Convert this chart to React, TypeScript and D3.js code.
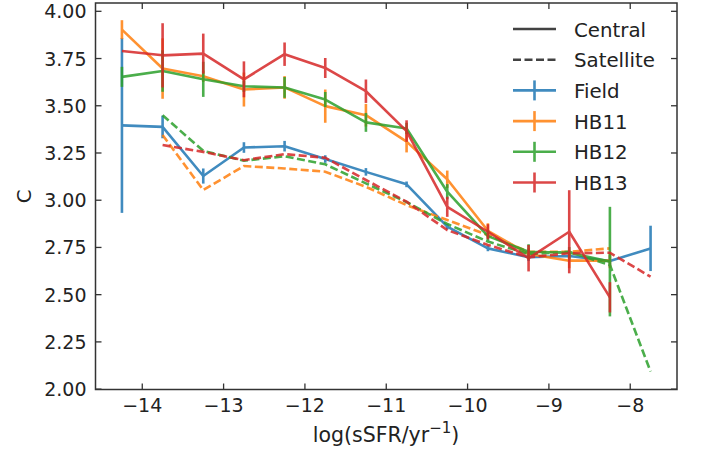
import React from "react";
import * as d3 from "d3";

const xBins = [-14.25, -13.75, -13.25, -12.75, -12.25, -11.75, -11.25, -10.75, -10.25, -9.75, -9.25, -8.75, -8.25, -7.75];

const fieldC = [3.396, 3.388, 3.128, 3.279, 3.286, 3.218, 3.15, 3.084, 2.86, 2.745, 2.698, 2.705, 2.678, 2.745];
const fieldErr = [0.463, 0.06, 0.04, 0.028, 0.028, 0.02, 0.02, 0.015, 0.015, 0.015, 0.02, 0.02, 0.03, 0.12];

const hb11C = [3.903, 3.697, 3.656, 3.586, 3.597, 3.498, 3.45, 3.31, 3.111, 2.838, 2.715, 2.68, 2.68, null];
const hb11Err = [0.05, 0.16, 0.03, 0.09, 0.06, 0.088, 0.06, 0.057, 0.046, 0.04, 0.03, 0.04, 0.04, null];

const hb12C = [3.653, 3.684, 3.64, 3.603, 3.597, 3.533, 3.412, 3.38, 3.045, 2.81, 2.727, 2.722, 2.675, null];
const hb12Err = [0.053, 0.11, 0.093, 0.03, 0.055, 0.04, 0.05, 0.03, 0.04, 0.03, 0.04, 0.03, 0.29, null];

const hb13C = [3.79, 3.767, 3.776, 3.64, 3.773, 3.7, 3.577, 3.366, 2.965, 2.833, 2.693, 2.833, 2.486, null];
const hb13Err = [0, 0.17, 0.106, 0.095, 0.062, 0.053, 0.062, 0.057, 0.053, 0.04, 0.07, 0.22, 0.08, null];

const hb11S = [null, 3.345, 3.054, 3.181, 3.168, 3.151, 3.071, 2.974, 2.895, 2.816, 2.727, 2.727, 2.745, null];
const hb12S = [null, 3.45, 3.261, 3.209, 3.233, 3.19, 3.089, 2.99, 2.874, 2.781, 2.715, 2.727, 2.657, 2.093];
const hb13S = [null, 3.292, 3.256, 3.212, 3.244, 3.225, 3.107, 2.992, 2.842, 2.763, 2.698, 2.719, 2.722, 2.595];

const groupNames = ["Field", "HB11", "HB12", "HB13"];
const groupColors = ["#1f77b4", "#ff7f0e", "#2ca02c", "#d62728"];
const xTicks = [-14, -13, -12, -11, -10, -9, -8];
const yTicks = [2.0, 2.25, 2.5, 2.75, 3.0, 3.25, 3.5, 3.75, 4.0];

const W = 703, H = 457;
const L = 95.5, R = 677, T = 3, B = 389.5;
const FONT = "DejaVu Sans, sans-serif";
const FS = 19;
const LW = 2.6;
const ALPHA = 0.85;

export default function App() {
  const x = d3.scaleLinear().domain([-14.575, -7.425]).range([L, R]);
  const y = d3.scaleLinear().domain([1.998, 4.044]).range([B, T]);

  const central = [
    { vals: fieldC, err: fieldErr },
    { vals: hb11C, err: hb11Err },
    { vals: hb12C, err: hb12Err },
    { vals: hb13C, err: hb13Err },
  ];
  const sats: (number | null)[][] = [[], hb11S, hb12S, hb13S];

  const line = d3
    .line<[number, number | null]>()
    .defined((d) => d[1] != null)
    .x((d) => x(d[0]))
    .y((d) => y(d[1] as number));

  const legendItems = ["Central", "Satellite", ...groupNames];
  const legX0 = 513, legX1 = 556, legTx = 574, legY0 = 29, legDy = 30.7;

  return (
    <svg width={W} height={H} style={{ position: "absolute", left: 0, top: 0, background: "#fff" }}>
      <rect x={0} y={0} width={W} height={H} fill="#fff" />
      {groupNames.map((g, gi) => {
        const c = central[gi];
        const pts = xBins.map((xv, i) => [xv, c.vals[i]] as [number, number | null]);
        const s = sats[gi];
        const spts = xBins.map((xv, i) => [xv, s[i] ?? null] as [number, number | null]);
        return (
          <g key={g} opacity={ALPHA}>
            <path d={line(pts) || ""} fill="none" stroke={groupColors[gi]} strokeWidth={LW} strokeLinejoin="round" />
            {xBins.map((xv, i) =>
              c.vals[i] != null && (c.err[i] as number) > 0 ? (
                <line
                  key={i}
                  x1={x(xv)}
                  x2={x(xv)}
                  y1={y((c.vals[i] as number) - (c.err[i] as number))}
                  y2={y((c.vals[i] as number) + (c.err[i] as number))}
                  stroke={groupColors[gi]}
                  strokeWidth={LW}
                />
              ) : null
            )}
            {s.length > 0 && (
              <path d={line(spts) || ""} fill="none" stroke={groupColors[gi]} strokeWidth={LW} strokeDasharray="8,3.5" />
            )}
          </g>
        );
      })}

      {/* axes frame */}
      <rect x={L} y={T} width={R - L} height={B - T} fill="none" stroke="#333" strokeWidth={1.5} />
      {xTicks.map((t) => (
        <g key={"xt" + t}>
          <line x1={x(t)} x2={x(t)} y1={B} y2={B - 6} stroke="#333" strokeWidth={1.3} />
          <line x1={x(t)} x2={x(t)} y1={T} y2={T + 6} stroke="#333" strokeWidth={1.3} />
          <text x={x(t)} y={B + 22.5} textAnchor="middle" fontFamily={FONT} fontSize={FS} fill="#222">
            {"\u2212" + Math.abs(t)}
          </text>
        </g>
      ))}
      {yTicks.map((t) => (
        <g key={"yt" + t}>
          <line x1={L} x2={L + 6} y1={y(t)} y2={y(t)} stroke="#333" strokeWidth={1.3} />
          <line x1={R} x2={R - 6} y1={y(t)} y2={y(t)} stroke="#333" strokeWidth={1.3} />
          <text x={L - 9} y={y(t) + 7} textAnchor="end" fontFamily={FONT} fontSize={FS} fill="#222">
            {t.toFixed(2)}
          </text>
        </g>
      ))}
      <text x={386} y={442} textAnchor="middle" fontFamily={FONT} fontSize={20.5} fill="#222">
        log(sSFR/yr<tspan dy={-9} fontSize={15}>{"\u22121"}</tspan>
        <tspan dy={9}>)</tspan>
      </text>
      <text
        transform={`translate(31,${(T + B) / 2}) rotate(-90)`}
        textAnchor="middle"
        fontFamily={FONT}
        fontSize={20}
        fill="#222"
      >
        C
      </text>

      {/* legend */}
      {legendItems.map((name, i) => {
        const ly = legY0 + i * legDy;
        const gi = i - 2;
        const color = gi >= 0 ? groupColors[gi] : "#222";
        return (
          <g key={name}>
            <g opacity={gi >= 0 ? ALPHA : 0.85}>
              <line x1={legX0} x2={legX1} y1={ly} y2={ly} stroke={color} strokeWidth={LW} strokeDasharray={i === 1 ? "8,3.5" : undefined} />
              {gi >= 0 && (
                <line x1={(legX0 + legX1) / 2} x2={(legX0 + legX1) / 2} y1={ly - 10} y2={ly + 10} stroke={color} strokeWidth={LW} />
              )}
            </g>
            <text x={legTx} y={ly + 7.5} fontFamily={FONT} fontSize={19.8} fill="#222">
              {name}
            </text>
          </g>
        );
      })}
    </svg>
  );
}
